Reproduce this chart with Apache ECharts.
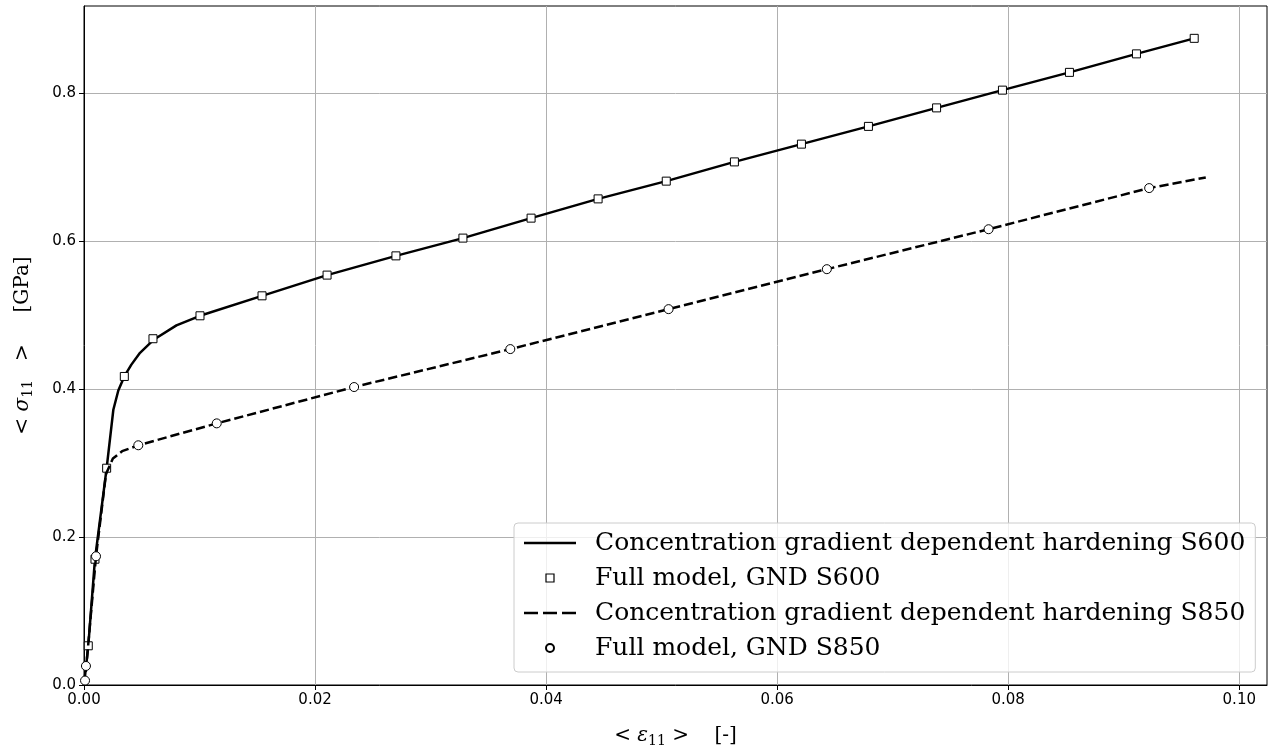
<!DOCTYPE html>
<html>
<head>
<meta charset="utf-8">
<script src="https://cdn.jsdelivr.net/npm/echarts@6/dist/echarts.min.js"></script>
<style>html,body{margin:0;padding:0;background:#fff}#c{width:1272px;height:751px}</style>
</head>
<body>
<div id="c"></div>
<script>
// ---- data ----
const seriesNames = [
  'Concentration gradient dependent hardening S600',
  'Full model, GND S600',
  'Concentration gradient dependent hardening S850',
  'Full model, GND S850'
];
const xTicks = [0, 0.02, 0.04, 0.06, 0.08, 0.10];
const yTicks = [0, 0.2, 0.4, 0.6, 0.8];

const s600LineX = [0, 0.00037, 0.00095, 0.00196, 0.00254, 0.00297, 0.00349, 0.0041, 0.00485, 0.00606, 0.0080, 0.01004, 0.01541, 0.02104, 0.0270, 0.0328, 0.0387, 0.0445, 0.0504, 0.0563, 0.0621, 0.0679, 0.0738, 0.0795, 0.0853, 0.0911, 0.0961];
const s600LineY = [0, 0.053, 0.170, 0.293, 0.372, 0.398, 0.417, 0.433, 0.449, 0.467, 0.486, 0.499, 0.526, 0.554, 0.580, 0.604, 0.631, 0.657, 0.681, 0.707, 0.731, 0.755, 0.780, 0.804, 0.828, 0.853, 0.874];

const s600MarkX = [0.00037, 0.00095, 0.00196, 0.00349, 0.00597, 0.01004, 0.01541, 0.02104, 0.0270, 0.0328, 0.0387, 0.0445, 0.0504, 0.0563, 0.0621, 0.0679, 0.0738, 0.0795, 0.0853, 0.0911, 0.0961];
const s600MarkY = [0.053, 0.170, 0.293, 0.417, 0.468, 0.499, 0.526, 0.554, 0.580, 0.604, 0.631, 0.657, 0.681, 0.707, 0.731, 0.755, 0.780, 0.804, 0.828, 0.853, 0.874];

const s850LineX = [0, 0.00009, 0.00104, 0.0019, 0.0025, 0.0033, 0.0047, 0.01149, 0.02338, 0.0369, 0.0506, 0.0643, 0.0783, 0.0922, 0.0971];
const s850LineY = [0, 0.006, 0.174, 0.285, 0.306, 0.316, 0.324, 0.3536, 0.4027, 0.454, 0.508, 0.562, 0.616, 0.6716, 0.686];

const s850MarkX = [0.00009, 0.00017, 0.00104, 0.0047, 0.01149, 0.02338, 0.0369, 0.0506, 0.0643, 0.0783, 0.0922];
const s850MarkY = [0.006, 0.0257, 0.174, 0.324, 0.3536, 0.4027, 0.454, 0.508, 0.562, 0.616, 0.6716];

const xMax = 0.1024;
const yMax = 0.9177;

const zip = (a, b) => a.map((v, i) => [v, b[i]]);

const chart = echarts.init(document.getElementById('c'), null, {renderer: 'canvas'});
const tickFont = {fontFamily: 'DejaVu Sans', fontSize: 15, color: '#000'};
const nameRich = {
  it: {fontFamily: 'DejaVu Serif', fontStyle: 'italic', fontSize: 20, color: '#000'},
  sub: {fontFamily: 'DejaVu Serif', fontSize: 14, color: '#000', padding: [11, 0, 0, 0]}
};
const option = {
  animation: false,
  backgroundColor: '#fff',
  grid: {left: 84, top: 6, right: 5, bottom: 66, show: true, borderColor: '#000', borderWidth: 1,
         containLabel: false, outerBoundsMode: 'none'},
  xAxis: {
    type: 'value', min: 0, max: xMax, interval: 0.02,
    axisLine: {lineStyle: {color: '#000', width: 1}},
    axisTick: {show: true, length: 5, lineStyle: {color: '#000'}, customValues: xTicks},
    axisLabel: Object.assign({margin: 8, customValues: xTicks, formatter: v => v.toFixed(2)}, tickFont),
    splitLine: {show: true, lineStyle: {color: '#b0b0b0', width: 1}},
    name: '< {it|ε}{sub|11} >    [-]', nameLocation: 'middle', nameGap: 38,
    nameTextStyle: {fontFamily: 'DejaVu Serif', fontSize: 20, color: '#000', rich: nameRich}
  },
  yAxis: {
    type: 'value', min: 0, max: yMax, interval: 0.2,
    axisLine: {show: true, lineStyle: {color: '#000', width: 1}},
    axisTick: {show: true, length: 5, lineStyle: {color: '#000'}, customValues: yTicks},
    axisLabel: Object.assign({margin: 8, customValues: yTicks, formatter: v => v.toFixed(1)}, tickFont),
    splitLine: {show: true, lineStyle: {color: '#b0b0b0', width: 1}},
    name: '< {it|σ}{sub|11}   >     [GPa]', nameLocation: 'middle', nameGap: 49,
    nameTextStyle: {fontFamily: 'DejaVu Serif', fontSize: 20, color: '#000', rich: nameRich}
  },
  legend: {
    orient: 'vertical', left: 514, top: 523,
    backgroundColor: 'rgba(255,255,255,0.8)', borderColor: '#cccccc', borderWidth: 1, borderRadius: 4,
    padding: [5, 10, 9, 10], itemGap: 5, itemWidth: 52, itemHeight: 8,
    symbolKeepAspect: true,
    textStyle: {fontFamily: 'DejaVu Serif', fontSize: 25, lineHeight: 30, color: '#000', padding: [0, 0, 0, 14]},
    data: [
      {name: seriesNames[0], icon: 'path://M0,0H52V2.5H0Z'},
      {name: seriesNames[1], icon: 'path://M0,0H10V10H0Z', itemStyle: {borderWidth: 1.2}},
      {name: seriesNames[2], icon: 'path://M0,0H14V2.5H0Z M19,0H33V2.5H19Z M38,0H52V2.5H38Z'},
      {name: seriesNames[3], icon: 'circle'}
    ]
  },
  series: [
    {name: seriesNames[0], type: 'line', data: zip(s600LineX, s600LineY), symbol: 'none', smooth: false,
     lineStyle: {color: '#000', width: 2.5}, itemStyle: {color: '#000'}, z: 2},
    {name: seriesNames[1], type: 'scatter', data: zip(s600MarkX, s600MarkY), symbol: 'rect', symbolSize: 8,
     itemStyle: {color: '#fff', borderColor: '#000', borderWidth: 1, opacity: 1}, z: 3},
    {name: seriesNames[2], type: 'line', data: zip(s850LineX, s850LineY), symbol: 'none', smooth: false,
     lineStyle: {color: '#000', width: 2.5, type: [9.25, 4]}, itemStyle: {color: '#000'}, z: 4},
    {name: seriesNames[3], type: 'scatter', data: zip(s850MarkX, s850MarkY), symbol: 'circle', symbolSize: 9,
     itemStyle: {color: '#fff', borderColor: '#000', borderWidth: 1, opacity: 1}, z: 5}
  ]
};
chart.setOption(option);
</script>
</body>
</html>
